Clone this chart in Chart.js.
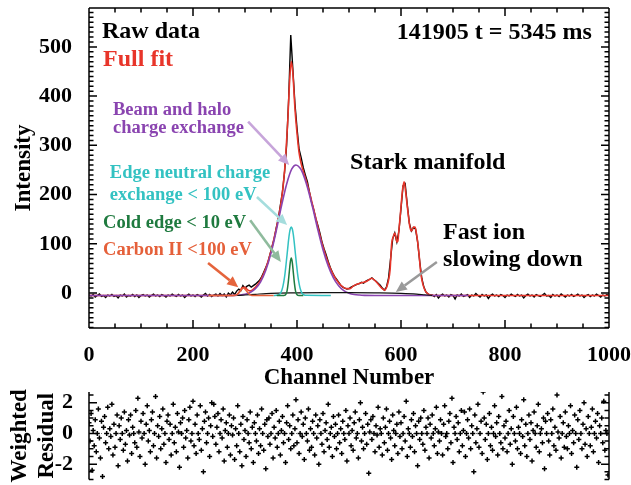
<!DOCTYPE html>
<html><head><meta charset="utf-8">
<script src="https://cdn.jsdelivr.net/npm/chart.js@4/dist/chart.umd.min.js"></script>
<style>
html,body{margin:0;padding:0;background:#fff;}
#wrap{position:relative;width:631px;height:485px;overflow:hidden;background:#fff;}
canvas{position:absolute;left:0;}
#main{top:0;width:631px;height:392px;}
#res{top:385px;width:631px;height:100px;}
</style></head><body>
<div id="wrap"><canvas id="main" width="631" height="392"></canvas><canvas id="res" width="631" height="100"></canvas></div>
<script>
// ---------------- DATA ----------------
const X_TICKS = [0, 200, 400, 600, 800, 1000];
const Y_TICKS = [0, 100, 200, 300, 400, 500];
const RES_TICKS = [-2, 0, 2];

// raw spectrum, one value every RAW_STEP channels starting at RAW_START
const RAW_START = 0, RAW_STEP = 4;
const rawIntensity = [
-4,-6,-3,-8,-5,-2,-7,-5,-9,-4,
-6,-3,-7,-5,-10,-4,-6,-2,-8,-5,
-6,-3,-7,-4,-9,-5,-3,-6,-4,-8,
-5,-2,-6,-4,-7,-3,-5,-8,-4,-6,
-2,-5,-7,-3,-6,-4,-9,-5,-2,-6,
-4,-7,-3,-5,-8,-4,-1,-6,-3,-7,
-4,-2,
-6,-1,-5,-2,-8,0,-4,2,-3,4,
8,5,15,10,14,16,12,15,18,22,
26,33,42,52,62,78,94,110,132,150,
178,205,245,300,395,524,455,385,335,292,
275,255,240,226,205,185,170,152,138,122,
104,90,78,64,52,42,34,28,22,16,
12,10,8,9,12,14,16,18,19,22,
20,24,26,28,31,27,24,20,16,10,
6,12,30,70,110,122,104,126,172,218,
222,180,142,126,133,130,104,64,30,12,
2,-2,-4,
-4,-7,-3,-10,-5,-2,-6,-4,-8,-3,
-5,-12,-4,-6,-2,-7,-5,-3,-9,-4,
-6,-1,-5,-8,-3,-6,-4,-11,-5,-2,
-6,-4,-7,-3,-5,-9,-4,-6,-2,-5,
-7,-3,-6,-4,-10,-5,-2,-6,-4,-8,
-3,-5,-7,-4,-1,-6,-5,-9,-3,-6,
-4,-7,-2,-5,-8,-4,-6,-3,-7,-5,
-2,-6,-4,-9,-5,-3,-7,-4,-6,-2,
-5,-8,-4,-6,-3,-5
];

// full fit
const fitChannel = [0,250,270,280,285,290,295,300,305,310,315,320,330,340,350,360,366,370,374,378,382,386,389,392,396,400,404,408,412,420,430,440,450,460,470,480,490,496,502,508,515,521,528,534,540,544,548,553,558,563,569,573,576,579,582,585,588,590,592,594,596,598,600,603,606,609,613,617,620,622,624,627,629,631,635,638,642,646,650,656,665,1000];
const fitIntensity = [-5,-5,-4.9,-4.4,-2.5,3.7,11.1,11.6,6.5,4.4,7,11.6,26.2,50.3,85.5,131,163,189,224,274,345,434,470,447,376,325,285,263,248,220,179,135,94,61,37,21,11,9,9,14,18,20,22,24,28,30,27,22,16,10,6,14,26,47,100,114,122,116,104,106,128,150,175,210,226,205,168,135,126,130,134,134,125,112,75,41,18,6,0,-4,-5,-5];

// beam and halo charge exchange
const beamChannel = [0,250,270,280,290,300,310,320,330,340,350,360,370,380,390,398,405,410,420,430,440,450,460,470,480,490,500,510,520,530,550,730];
const beamIntensity = [-5,-5,-4.9,-4.7,-4.1,-2.6,1,8.6,22.7,46.3,81,126,176,221,252,260,255,246,215,174,129,88,55,31,15,5,-0.2,-2.9,-4.1,-4.7,-5,-5];

// edge neutral charge exchange < 100 eV
const edgeChannel = [355,361,365,367,369,371,373,375,377,379,381,383,385,387,389,391,393,395,397,399,401,403,405,407,409,411,413,417,465];
const edgeIntensity = [-5,-4.7,-3.5,-2,1,6,14,25,40,59,79,100,118,130,134,130,118,100,79,59,40,25,14,6,1,-2,-3.5,-4.7,-5];

// cold edge < 10 eV
const coldChannel = [361,373,375,377,379,381,383,385,387,389,391,393,395,397,399,401,403,405,412];
const coldIntensity = [-5,-5,-4.8,-4.2,-1.7,5,20,41,62,71,62,41,20,5,-1.7,-4.2,-4.8,-5,-5];

// carbon II < 100 eV
const carbonChannel = [230,279,282,285,288,291,294,297,300,303,306,309,312,315,320,355];
const carbonIntensity = [-5,-5,-4.3,-3,0,4,8,10,8,4,0,-3,-4.3,-4.8,-5,-5];

// fast ion slowing down
const fastChannel = [285,300,320,350,400,450,500,550,600,630,645,660];
const fastIntensity = [-5,-4,-2.5,-0.5,0.5,1,1,0.5,-0.5,-2,-3.5,-5];

// weighted residual, one value every RES_STEP channels
const RES_START = 0, RES_STEP = 2;
const residual = [
0.7,-0.5,1.3,-2.4,0.2,-0.8,0.9,-1.2,0.0,1.6,-0.3,-1.6,0.8,-2.8,0.4,1.1,-0.6,0.0,1.7,-1.0,
0.3,-0.2,1.9,-1.4,0.6,-0.9,0.0,1.2,-2.1,0.5,-0.4,1.0,0.0,-1.1,1.4,-0.7,0.2,-1.8,0.9,-0.1,
1.2,-1.3,0.4,0.0,-0.6,1.5,-0.9,2.3,0.1,-1.5,0.8,-0.3,1.3,0.0,-2.0,0.6,1.8,-0.5,0.2,-1.2,
0.9,1.4,-0.8,0.0,2.4,-1.6,0.5,-0.2,1.1,-1.0,0.3,1.6,-0.7,0.0,-1.9,0.8,1.2,-0.4,0.6,-1.4,
0.0,1.9,-0.6,0.4,-1.2,1.3,0.1,-2.2,0.7,0.0,1.0,-0.9,1.5,-0.3,0.2,-1.6,0.9,1.7,-0.5,0.0,
2.1,-0.8,0.6,-1.3,1.2,0.0,-0.4,1.8,-1.1,0.3,-2.5,0.8,1.4,-0.6,0.0,1.0,-1.5,0.5,2.0,-0.2,
1.9,1.1,-0.7,0.4,1.3,-1.2,0.0,0.9,-0.3,1.6,-1.8,0.2,0.7,-0.9,0.0,1.2,-1.4,0.5,-0.1,1.0,
-1.7,0.3,-0.8,1.8,0.0,-1.2,0.6,-2.1,1.1,-0.4,0.2,-1.5,0.9,0.0,-0.6,1.4,-1.0,0.4,-1.9,0.7,
0.0,-0.5,1.2,-1.3,0.3,-0.8,1.6,0.0,-1.1,0.6,-2.3,0.9,-0.2,1.0,-0.7,0.0,1.3,-1.6,0.4,-0.3,
1.5,-0.9,0.0,0.8,-1.4,0.2,1.1,-0.6,0.0,-1.9,0.7,1.8,-0.4,0.5,-1.0,0.0,1.2,-0.8,0.3,2.2,
-0.6,0.9,-1.3,0.0,1.4,-0.2,0.6,-1.7,1.0,0.0,-0.5,1.6,-1.1,0.3,-0.9,0.8,0.0,-1.4,1.2,-0.3,
0.5,-2.0,0.9,0.0,-0.7,1.3,-1.2,0.2,0.7,-0.4,1.9,-0.9,0.0,0.4,-1.5,1.1,-0.2,0.6,-1.0,0.0,
1.2,-0.6,0.3,-1.3,0.8,0.0,-0.4,1.5,-1.8,0.5,0.0,1.0,-0.8,0.2,-1.1,0.7,1.4,-0.3,0.0,-1.6,
0.9,2.0,-0.5,0.4,-1.0,0.0,1.3,-0.7,0.6,-2.6,0.1,0.9,-0.4,1.1,0.0,-1.2,0.5,-0.1,1.7,-0.9,
0.3,0.0,-1.4,1.0,-0.6,0.4,1.6,-1.1,0.0,0.8,-0.3,-1.7,1.2,0.2,-0.8,0.0,0.6,-1.3,1.4,-0.2,
0.7,-1.0,0.0,1.1,-0.5,2.1,-1.5,0.3,0.0,-0.9,0.9,-0.2,1.3,-1.2,0.5,0.0,-2.1,0.8,-0.4,1.0,
0.0,-0.7,1.5,-1.1,0.4,0.0,1.0,-1.6,0.6,-0.3,1.2,0.0,-0.8,0.3,1.7,-1.3,0.1,-0.5,0.9,0.0,
-1.4,0.6,1.8,-0.2,0.0,-1.0,0.8,1.3,-0.6,2.3,-1.9,0.4,0.0,1.1,-0.4,0.7,-1.2,0.0,1.5,-0.8,
0.2,1.4,-1.5,0.0,0.9,-0.3,1.6,-1.0,0.5,0.0,-2.5,1.2,-0.6,0.3,1.9,-0.9,0.0,0.8,-1.3,2.7,
1.0,-0.4,0.6,-1.7,0.0,1.3,-0.8,0.4,-1.1,0.0,1.8,-0.2,0.7,-1.4,1.1,0.0,-0.6,2.4,-1.0,0.5,
-0.3,0.8,-1.2,0.0,1.5,-0.7,0.3,-2.0,1.1,0.0,-0.5,1.7,-1.0,0.4,0.0,-1.3,0.9,-0.2,2.2,-0.8,
0.6,-1.5,0.0,1.2,-0.4,0.7,-1.8,0.2,1.4,0.0,-0.9,0.5,1.9,-1.2,0.0,0.3,-0.6,1.0,-2.3,0.8,
0.0,1.3,-0.5,-1.4,0.9,0.0,1.6,-0.8,0.4,-1.1,2.5,0.1,-0.3,1.1,-1.6,0.0,0.7,-0.9,1.4,-0.2,
-1.0,0.5,0.0,1.8,-1.3,0.2,-0.6,1.2,0.0,-2.2,0.9,-0.4,1.5,0.0,-1.0,0.6,2.0,-0.7,0.3,-1.5,
1.1,0.0,-0.8,0.4,1.6,-1.2,0.0,0.8,-0.3,1.3,-1.9,0.5,0.0,1.0,-0.6,2.1,-1.1,0.2,0.0,-2.7
];

// ---------------- STYLE ----------------
const SERIF = "'Liberation Serif','Times New Roman',Times,serif";
const RED = '#e8352a', PURPLE = '#8a44b0', CYAN = '#33c2c2', GREEN = '#1f7a3f', ORANGE = '#e5603a';

// annotations (anchored in data coordinates)
const notes = [
  {text:'Raw data', x:25, y:530, color:'#000', size:24},
  {text:'Full fit', x:27, y:474, color:RED, size:24},
  {text:'141905 t = 5345 ms', x:967, y:528, color:'#000', size:24, align:'right'},
  {text:'Beam and halo', x:46, y:372, color:PURPLE, size:18.5},
  {text:'charge exchange', x:46, y:335, color:PURPLE, size:18.5},
  {text:'Edge neutral charge', x:40, y:244, color:CYAN, size:18.5},
  {text:'exchange < 100 eV', x:40, y:199, color:CYAN, size:18.5},
  {text:'Cold edge < 10 eV', x:27, y:142, color:GREEN, size:18.5},
  {text:'Carbon II <100 eV', x:27, y:87, color:ORANGE, size:18.5},
  {text:'Stark manifold', x:502, y:264, color:'#000', size:24},
  {text:'Fast ion', x:681, y:122, color:'#000', size:24},
  {text:'slowing down', x:681, y:67, color:'#000', size:24}
];
const arrows = [
  {from:[306,348], to:[385,260], color:'#c7a5da'},
  {from:[323,195], to:[381,138], color:'#a5dddd'},
  {from:[310,148], to:[369,63], color:'#8fbb9d'},
  {from:[229,61], to:[287,12], color:'#e5643c'},
  {from:[669,63], to:[590,2], color:'#9a9a9a'}
];

// ---------------- HELPERS ----------------
const pts = (xs, ys) => xs.map((x, i) => ({x: x, y: ys[i]}));
const grid = (start, step, ys) => ys.map((y, i) => ({x: start + i * step, y: y}));
const lineSet = (label, data, color, width, order, smooth) => ({
  label, data, borderColor: color, backgroundColor: color, borderWidth: width,
  pointRadius: 0, showLine: true, fill: false, order,
  tension: 0, cubicInterpolationMode: smooth ? 'monotone' : 'default'
});
const noPad = s => { s.paddingTop = 0; s.paddingBottom = 0; s.paddingLeft = 0; s.paddingRight = 0; };

const framePlugin = {
  id: 'frame',
  beforeDatasetsDraw(chart, args, o) {
    if (!o.zeroLine) return;
    const {ctx, chartArea: a, scales: {y}} = chart;
    const p = Math.round(y.getPixelForValue(0)) + 0.5;
    ctx.save();
    ctx.strokeStyle = '#777'; ctx.lineWidth = 1; ctx.setLineDash([1, 2]);
    ctx.beginPath(); ctx.moveTo(a.left, p); ctx.lineTo(a.right, p); ctx.stroke();
    ctx.restore();
  },
  afterDatasetsDraw(chart, args, o) {
    const {ctx, chartArea: a, scales: {x, y}} = chart;
    ctx.save();
    ctx.strokeStyle = '#000'; ctx.lineWidth = o.lineWidth || 1.5; ctx.lineCap = 'butt';
    ctx.beginPath();
    ctx.moveTo(a.left, a.top); ctx.lineTo(a.left, a.bottom);
    ctx.moveTo(a.right, a.top); ctx.lineTo(a.right, a.bottom);
    if (o.box) {
      ctx.moveTo(a.left, a.top); ctx.lineTo(a.right, a.top);
      ctx.moveTo(a.left, a.bottom); ctx.lineTo(a.right, a.bottom);
    }
    const n = Math.round((o.yTo - o.yFrom) / o.yStep);
    for (let i = 0; i <= n; i++) {
      const v = o.yFrom + i * o.yStep;
      const p = y.getPixelForValue(v);
      if (p < a.top - 0.5 || p > a.bottom + 0.5) continue;
      const major = o.yMajor.some(m => Math.abs(m - v) < 1e-6);
      const L = major ? o.major : o.minor;
      ctx.moveTo(a.left, p); ctx.lineTo(a.left + L, p);
      ctx.moveTo(a.right, p); ctx.lineTo(a.right - L, p);
    }
    if (o.xStep) {
      const m = Math.round((o.xTo - o.xFrom) / o.xStep);
      for (let i = 0; i <= m; i++) {
        const v = o.xFrom + i * o.xStep;
        const p = x.getPixelForValue(v);
        const major = o.xMajor.some(t => Math.abs(t - v) < 1e-6);
        const L = major ? o.major : o.minor;
        ctx.moveTo(p, a.bottom); ctx.lineTo(p, a.bottom - L);
        ctx.moveTo(p, a.top); ctx.lineTo(p, a.top + L);
      }
    }
    ctx.stroke();
    ctx.restore();
  }
};

const notesPlugin = {
  id: 'notes',
  afterDatasetsDraw(chart, args, o) {
    if (!o.notes) return;
    const {ctx, scales: {x, y}} = chart;
    ctx.save();
    o.arrows.forEach(ar => {
      const x0 = x.getPixelForValue(ar.from[0]), y0 = y.getPixelForValue(ar.from[1]);
      const x1 = x.getPixelForValue(ar.to[0]), y1 = y.getPixelForValue(ar.to[1]);
      const ang = Math.atan2(y1 - y0, x1 - x0);
      const hl = 11, hw = 5;
      const bx = x1 - hl * Math.cos(ang), by = y1 - hl * Math.sin(ang);
      ctx.strokeStyle = ar.color; ctx.fillStyle = ar.color; ctx.lineWidth = 2.6;
      ctx.beginPath(); ctx.moveTo(x0, y0); ctx.lineTo(bx, by); ctx.stroke();
      ctx.beginPath();
      ctx.moveTo(x1, y1);
      ctx.lineTo(bx + hw * Math.sin(ang), by - hw * Math.cos(ang));
      ctx.lineTo(bx - hw * Math.sin(ang), by + hw * Math.cos(ang));
      ctx.closePath(); ctx.fill();
    });
    o.notes.forEach(t => {
      ctx.font = 'bold ' + t.size + 'px ' + SERIF;
      ctx.fillStyle = t.color;
      ctx.textAlign = t.align || 'left';
      ctx.textBaseline = 'middle';
      ctx.fillText(t.text, x.getPixelForValue(t.x), y.getPixelForValue(t.y));
    });
    ctx.restore();
  }
};

Chart.defaults.font.family = SERIF;
Chart.defaults.color = '#000';

const tickFont = {family: SERIF, size: 22, weight: 'bold'};
const titleFont = {family: SERIF, size: 23, weight: 'bold'};
const plain = v => String(v);

// ---------------- MAIN PANEL ----------------
new Chart(document.getElementById('main'), {
  type: 'scatter',
  data: {datasets: [
    lineSet('Carbon II <100 eV', pts(carbonChannel, carbonIntensity), ORANGE, 1.5, 1, true),
    lineSet('Cold edge < 10 eV', pts(coldChannel, coldIntensity), GREEN, 1.5, 2, true),
    lineSet('Edge neutral charge exchange < 100 eV', pts(edgeChannel, edgeIntensity), CYAN, 1.5, 3, true),
    lineSet('Fast ion slowing down', pts(fastChannel, fastIntensity), '#111', 1.2, 4, true),
    lineSet('Beam and halo charge exchange', pts(beamChannel, beamIntensity), PURPLE, 1.6, 5, true),
    lineSet('Full fit', pts(fitChannel, fitIntensity), RED, 1.6, 6, true),
    lineSet('Raw data', grid(RAW_START, RAW_STEP, rawIntensity), '#000', 1.4, 7, false)
  ]},
  options: {
    responsive: false, animation: false, devicePixelRatio: 1, events: [],
    layout: {padding: {top: 8, right: 22, left: 0, bottom: 0}},
    plugins: {
      legend: {display: false}, tooltip: {enabled: false},
      frame: {box: true, lineWidth: 1.5, major: 8, minor: 4.5,
              xFrom: 0, xTo: 1000, xStep: 50, xMajor: X_TICKS,
              yFrom: -70, yTo: 570, yStep: 10, yMajor: Y_TICKS},
      notes: {notes: notes, arrows: arrows}
    },
    scales: {
      x: {
        type: 'linear', min: 0, max: 1000,
        afterBuildTicks: s => { s.ticks = X_TICKS.map(v => ({value: v})); },
        afterFit: s => { s.height = 64; noPad(s); },
        grid: {display: false}, border: {display: false},
        ticks: {font: tickFont, color: '#000', padding: 6, maxRotation: 0, autoSkip: false, callback: plain},
        title: {display: true, text: 'Channel Number', font: titleFont, color: '#000', padding: {top: 0, bottom: 0}}
      },
      y: {
        type: 'linear', min: -71, max: 579,
        afterBuildTicks: s => { s.ticks = Y_TICKS.map(v => ({value: v})); },
        afterFit: s => { s.width = 89; noPad(s); },
        grid: {display: false}, border: {display: false},
        ticks: {font: tickFont, color: '#000', padding: 9, callback: plain},
        title: {display: true, text: 'Intensity', font: titleFont, color: '#000', padding: {top: 10, bottom: 0}}
      }
    }
  },
  plugins: [framePlugin, notesPlugin]
});

// ---------------- RESIDUAL PANEL ----------------
new Chart(document.getElementById('res'), {
  type: 'scatter',
  data: {datasets: [{
    label: 'Weighted Residual', data: grid(RES_START, RES_STEP, residual),
    pointStyle: 'cross', pointRadius: 2.5, borderColor: '#000', backgroundColor: '#000',
    borderWidth: 1.5, showLine: false
  }]},
  options: {
    responsive: false, animation: false, devicePixelRatio: 1, events: [],
    layout: {padding: {top: 7, right: 22, left: 0, bottom: 2}},
    plugins: {
      legend: {display: false}, tooltip: {enabled: false},
      frame: {box: false, zeroLine: true, lineWidth: 1.5, major: 8, minor: 4.5,
              yFrom: -3, yTo: 2.5, yStep: 0.5, yMajor: RES_TICKS}
    },
    scales: {
      x: {type: 'linear', min: 0, max: 1000, display: false},
      y: {
        type: 'linear', min: -3, max: 2.7,
        afterBuildTicks: s => { s.ticks = RES_TICKS.map(v => ({value: v})); },
        afterFit: s => { s.width = 89; noPad(s); },
        grid: {display: false}, border: {display: false},
        ticks: {font: tickFont, color: '#000', padding: 8, callback: plain},
        title: {display: true, text: ['Weighted', 'Residual'], font: {family: SERIF, size: 23, weight: 'bold', lineHeight: 1.17},
                color: '#000', padding: {top: 6.5, bottom: 0}}
      }
    }
  },
  plugins: [framePlugin]
});
</script>
</body></html>
